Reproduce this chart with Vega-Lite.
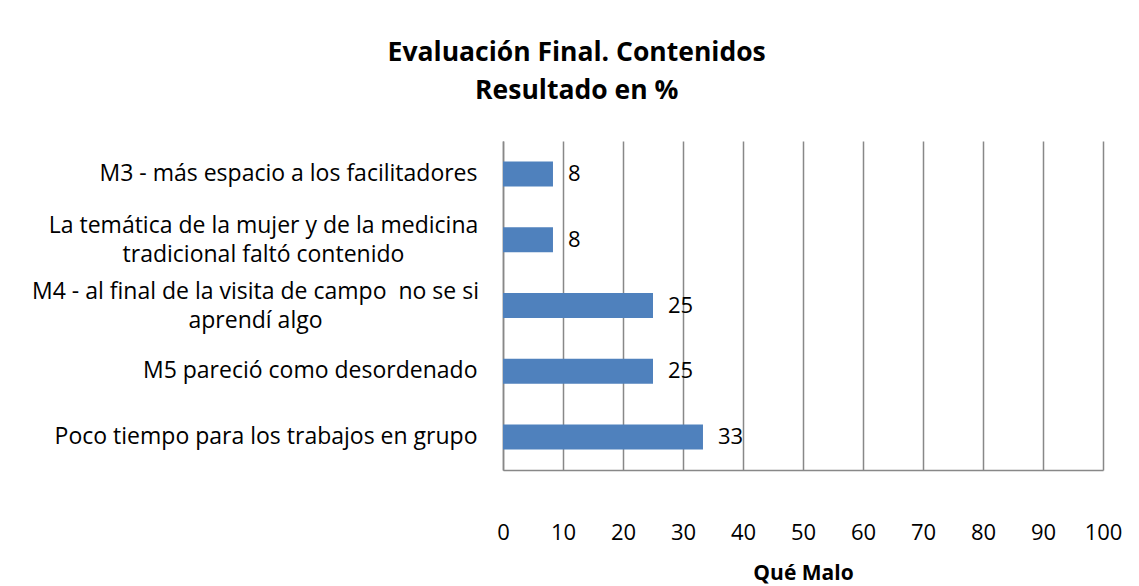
{
  "$schema": "https://vega.github.io/schema/vega-lite/v6.json",
  "autosize": "none",
  "width": 600,
  "height": 329,
  "padding": {"left": 503, "top": 141, "right": 36, "bottom": 116},
  "background": "white",
  "title": {
    "text": ["Evaluación Final. Contenidos", "Resultado en %"],
    "anchor": "middle",
    "frame": "bounds",
    "font": "Open Sans",
    "fontSize": 26.5,
    "fontWeight": "bold",
    "color": "black",
    "lineHeight": 38,
    "offset": 37
  },
  "data": {
    "values": [
      {"item": "M3 - más espacio a los facilitadores", "value": 8.33},
      {"item": "La temática de la mujer y de la medicina|tradicional faltó contenido", "value": 8.33},
      {"item": "M4 - al final de la visita de campo \u00a0no se si|aprendí algo", "value": 25},
      {"item": "M5 pareció como desordenado ", "value": 25},
      {"item": "Poco tiempo para los trabajos en grupo", "value": 33.33}
    ]
  },
  "encoding": {
    "y": {
      "field": "item",
      "type": "nominal",
      "sort": null,
      "scale": {"paddingInner": 0.62, "paddingOuter": 0.31},
      "axis": {
        "title": null,
        "labelExpr": "split(datum.label, '|')",
        "labelFont": "Open Sans",
        "labelFontSize": 23,
        "labelColor": "black",
        "labelLineHeight": 29,
        "labelAlign": {"condition": {"test": "indexof(datum.label, '|') >= 0", "value": "center"}, "value": "right"},
        "labelPadding": {"condition": [
          {"test": "indexof(datum.label, 'La tem') == 0", "value": 240},
          {"test": "indexof(datum.label, 'M4 ') == 0", "value": 248}
        ], "value": 26},
        "labelOffset": {"condition": {"test": "indexof(datum.label, '|') >= 0", "value": -14}, "value": 0},
        "labelLimit": 500,
        "ticks": false,
        "domainColor": "#888888",
        "domainWidth": 1.5,
        "grid": false
      }
    },
    "x": {
      "field": "value",
      "type": "quantitative",
      "scale": {"domain": [0, 100]},
      "axis": {
        "title": "Qué Malo",
        "titleFont": "Open Sans",
        "titleFontSize": 21,
        "titleFontWeight": "bold",
        "titleColor": "black",
        "titlePadding": 19,
        "values": [0, 10, 20, 30, 40, 50, 60, 70, 80, 90, 100],
        "labelFont": "Open Sans",
        "labelFontSize": 22,
        "labelColor": "black",
        "labelPadding": 52,
        "labelFlush": false,
        "ticks": false,
        "domainColor": "#888888",
        "domainWidth": 1.5,
        "grid": true,
        "gridColor": "#888888",
        "gridWidth": 1.5
      }
    }
  },
  "layer": [
    {"mark": {"type": "bar", "color": "#4F81BD"}},
    {
      "mark": {"type": "text", "align": "left", "dx": 15, "font": "Open Sans", "fontSize": 22, "color": "black", "baseline": "middle"},
      "encoding": {"text": {"field": "value", "type": "quantitative", "format": ".0f"}}
    }
  ],
  "config": {"view": {"stroke": null}}
}
